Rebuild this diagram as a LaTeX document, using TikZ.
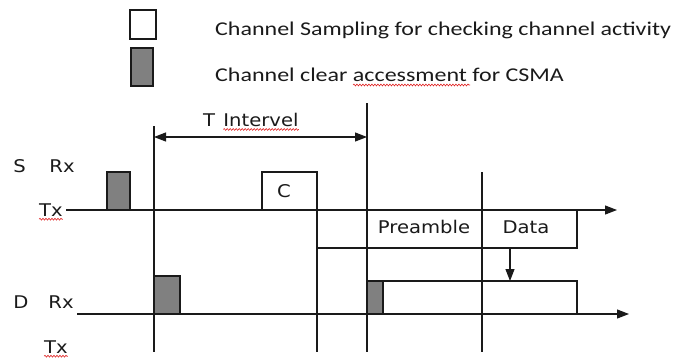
\documentclass[tikz,border=0pt]{standalone}
\usepackage{fontspec}
\usetikzlibrary{arrows.meta,decorations.pathmorphing}
\newfontfamily\labfont[FakeStretch=1.12]{DejaVu Sans}
\newfontfamily\legfont[FakeStretch=1.23]{Carlito}
\definecolor{ink}{HTML}{1A1A1A}
\definecolor{boxgray}{HTML}{808080}
\definecolor{wavy}{HTML}{E02020}
\begin{document}
\begin{tikzpicture}[x=1pt,y=-1pt,
 ln/.style={draw=ink,line width=1.1pt},
 arr/.style={ln,-{Triangle[length=12pt,width=9pt]}},
 darr/.style={ln,{Triangle[length=12pt,width=9pt]}-{Triangle[length=12pt,width=9pt]}},
 box/.style={rectangle,draw=ink,line width=1.1pt,inner sep=0pt,outer sep=0pt,anchor=north west},
 gbox/.style={box,fill=boxgray},
 wbox/.style={box,fill=white},
 lab/.style={font=\labfont\fontsize{17.5}{20}\selectfont,text=ink,inner sep=0pt,anchor=base},
 leg/.style={font=\legfont\fontsize{19.5}{22}\selectfont,text=ink,inner sep=0pt,anchor=base west},
 squig/.style={draw=wavy,line width=0.6pt,decorate,decoration={snake,amplitude=0.9pt,segment length=3pt}}]

\useasboundingbox (0,0) rectangle (675,360);
\fill[white] (0,0) rectangle (675,360);

% legend
\node[wbox,minimum width=26pt,minimum height=29pt] (lw) at (130,10) {};
\node[gbox,minimum width=22pt,minimum height=38pt] (lg) at (131,48) {};
\node[leg] (lt1) at (215,35) {Channel Sampling for checking channel activity};
\node[leg] (lt2) at (215,81) {Channel clear accessment for CSMA};
\draw[squig] (353,85) -- (470,85);

% coordinates
\coordinate (v1t) at (154,126);
\coordinate (v1b) at (154,352);
\coordinate (v2t) at (367,103);
\coordinate (v2b) at (367,352);
\coordinate (v3b) at (317,352);
\coordinate (v4t) at (482,172);
\coordinate (v4b) at (482,352);
\coordinate (stx0) at (66,210);
\coordinate (stx1) at (617,210);
\coordinate (drx0) at (77,314);
\coordinate (drx1) at (629,314);
\coordinate (iy) at (0,137);
\coordinate (dx) at (510,0);

% boxes
\node[box,minimum width=260pt,minimum height=38pt] (pbox) at (317,210) {};
\node[box,minimum width=210pt,minimum height=33pt] (dbox) at (367,281) {};
\node[gbox,minimum width=16pt,minimum height=33pt] (dgr) at (367,281) {};
\node[gbox,minimum width=23pt,minimum height=38pt] (sg) at (107,172) {};
\node[wbox,minimum width=55pt,minimum height=38pt] (cbox) at (262,172) {};
\node[gbox,minimum width=26pt,minimum height=38pt] (dg) at (154,276) {};

% time axes
\draw[arr] (stx0) -- (stx1);
\draw[arr] (drx0) -- (drx1);

% vertical markers
\draw[ln] (v1t) -- (v1b);
\draw[ln] (v2t) -- (v2b);
\draw[ln] (cbox.south east) -- (v3b);
\draw[ln] (v4t) -- (v4b);

% interval arrow
\draw[darr] (v1t |- iy) -- (v2t |- iy);

% data arrow
\draw[arr] (pbox.south -| dx) -- (dbox.north -| dx);

% labels
\node[lab] (tS) at (19.5,172) {S};
\node[lab] (tSrx) at (62,172) {Rx};
\node[lab] (tStx) at (51,216) {Tx};
\node[lab] (tD) at (21,308) {D};
\node[lab] (tDrx) at (61,308) {Rx};
\node[lab] (tDtx) at (56,353) {Tx};
\node[lab] (tC) at (284,197) {C};
\node[lab] (tPre) at (424,233) {Preamble};
\node[lab] (tData) at (526,233) {Data};
\node[lab] (tT) at (209,126) {T};
\node[lab] (tInt) at (261,126) {Intervel};

\draw[squig] ([yshift=-3pt]tStx.south west) -- ([yshift=-3pt]tStx.south east);
\draw[squig] ([yshift=-3pt]tDtx.south west) -- ([yshift=-3pt]tDtx.south east);
\draw[squig] ([yshift=-3pt]tInt.south west) -- ([yshift=-3pt]tInt.south east);
\end{tikzpicture}
\end{document}
